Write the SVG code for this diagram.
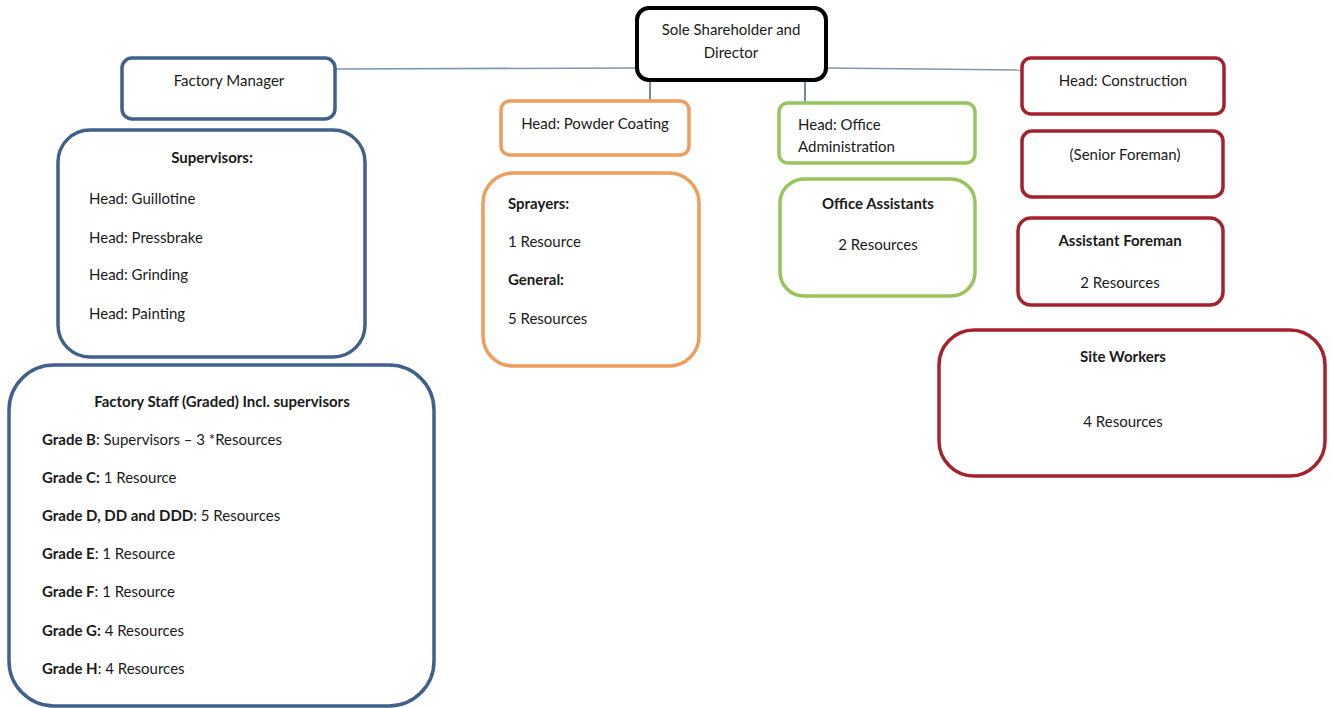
<svg xmlns="http://www.w3.org/2000/svg" width="1333" height="708" viewBox="0 0 1333 708">
  <style>
    text { font-family: Lato, "Liberation Sans", sans-serif; font-size: 15px; fill: #1a1a1a; }
    .b { font-weight: bold; }
    .c { text-anchor: middle; }
    .box { fill: #ffffff; }
    .top { stroke: #000000; stroke-width: 4; }
    .blue { stroke: #41618c; stroke-width: 3.5; }
    .orange { stroke: #ee9e5c; stroke-width: 3.5; }
    .green { stroke: #97c55d; stroke-width: 3.5; }
    .red { stroke: #a5222c; stroke-width: 3.5; }
    .link { stroke: #7f97b2; stroke-width: 1.6; fill: none; }
    .drop { stroke: #4a6c96; stroke-width: 1.6; fill: none; }
  </style>
  <rect width="1333" height="708" fill="#ffffff"/>

  <!-- connectors -->
  <g id="connectors">
    <line class="link" x1="335" y1="69" x2="637" y2="68"/>
    <line class="link" x1="826" y1="68" x2="1022" y2="70"/>
    <line class="drop" x1="650" y1="80" x2="650" y2="101"/>
    <line class="drop" x1="805" y1="80" x2="805" y2="103"/>
  </g>

  <g id="director">
    <rect class="box top" x="637" y="8" width="189" height="72" rx="12"/>
    <text class="c" x="731" y="35">Sole Shareholder and</text>
    <text class="c" x="731" y="58">Director</text>
  </g>

  <g id="factory-manager">
    <rect class="box blue" x="122" y="58" width="213" height="61" rx="10"/>
    <text class="c" x="229" y="86">Factory Manager</text>
  </g>

  <g id="supervisors">
    <rect class="box blue" x="58" y="130" width="307" height="227" rx="32"/>
    <text class="c b" x="212" y="163">Supervisors:</text>
    <text x="89" y="204">Head: Guillotine</text>
    <text x="89" y="243">Head: Pressbrake</text>
    <text x="89" y="280">Head: Grinding</text>
    <text x="89" y="319">Head: Painting</text>
  </g>

  <g id="factory-staff">
    <rect class="box blue" x="9" y="365" width="425" height="341" rx="45"/>
    <text class="c b" x="222" y="407">Factory Staff (Graded) Incl. supervisors</text>
    <text x="42" y="445"><tspan class="b">Grade B</tspan>: Supervisors – 3 *Resources</text>
    <text x="42" y="483"><tspan class="b">Grade C:</tspan> 1 Resource</text>
    <text x="42" y="521"><tspan class="b">Grade D, DD and DDD</tspan>: 5 Resources</text>
    <text x="42" y="559"><tspan class="b">Grade E</tspan>: 1 Resource</text>
    <text x="42" y="597"><tspan class="b">Grade F</tspan>: 1 Resource</text>
    <text x="42" y="636"><tspan class="b">Grade G:</tspan> 4 Resources</text>
    <text x="42" y="674"><tspan class="b">Grade H</tspan>: 4 Resources</text>
  </g>

  <g id="head-powder-coating">
    <rect class="box orange" x="501" y="101" width="188" height="54" rx="9"/>
    <text class="c" x="595" y="129">Head: Powder Coating</text>
  </g>

  <g id="sprayers">
    <rect class="box orange" x="483" y="173" width="216" height="193" rx="30"/>
    <text class="b" x="508" y="209">Sprayers:</text>
    <text x="508" y="247">1 Resource</text>
    <text class="b" x="508" y="285">General:</text>
    <text x="508" y="324">5 Resources</text>
  </g>

  <g id="head-office-admin">
    <rect class="box green" x="779" y="103" width="196" height="60" rx="9"/>
    <text x="798" y="130">Head: Office</text>
    <text x="798" y="152">Administration</text>
  </g>

  <g id="office-assistants">
    <rect class="box green" x="780" y="179" width="195" height="117" rx="24"/>
    <text class="c b" x="878" y="209">Office Assistants</text>
    <text class="c" x="878" y="250">2 Resources</text>
  </g>

  <g id="head-construction">
    <rect class="box red" x="1022" y="58" width="202" height="56" rx="9"/>
    <text class="c" x="1123" y="86">Head: Construction</text>
  </g>

  <g id="senior-foreman">
    <rect class="box red" x="1022" y="131" width="201" height="66" rx="10"/>
    <text class="c" x="1125" y="160">(Senior Foreman)</text>
  </g>

  <g id="assistant-foreman">
    <rect class="box red" x="1018" y="218" width="205" height="87" rx="13"/>
    <text class="c b" x="1120" y="246">Assistant Foreman</text>
    <text class="c" x="1120" y="288">2 Resources</text>
  </g>

  <g id="site-workers">
    <rect class="box red" x="939" y="330" width="386" height="146" rx="35"/>
    <text class="c b" x="1123" y="362">Site Workers</text>
    <text class="c" x="1123" y="427">4 Resources</text>
  </g>
</svg>
